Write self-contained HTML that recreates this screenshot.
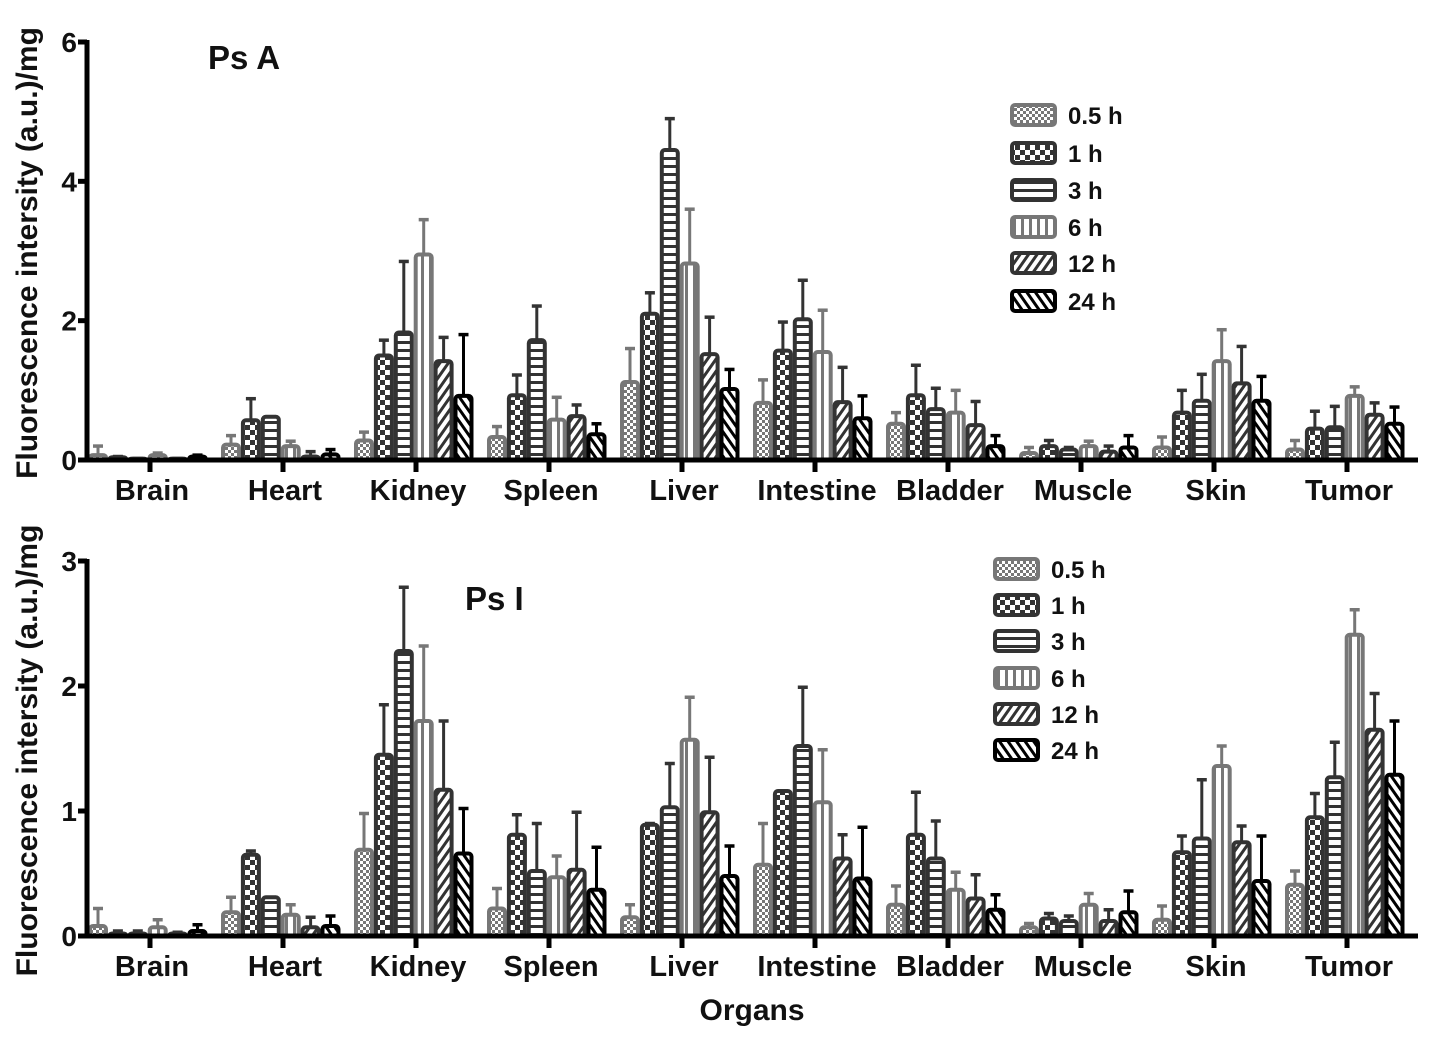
<!DOCTYPE html>
<html><head><meta charset="utf-8">
<style>
html,body{margin:0;padding:0;background:#fff;}
svg text{font-family:"Liberation Sans",Arial,sans-serif;font-weight:bold;fill:#111;}
</style></head>
<body>
<svg id="chart" width="1441" height="1039" viewBox="0 0 1441 1039" xmlns="http://www.w3.org/2000/svg">
<defs>
<pattern id="p0" width="6" height="6" patternUnits="userSpaceOnUse"><rect width="6" height="6" fill="#fff"/><rect width="3" height="3" fill="#777"/><rect x="3" y="3" width="3" height="3" fill="#777"/></pattern>
<pattern id="p1" width="10" height="10" patternUnits="userSpaceOnUse"><rect width="10" height="10" fill="#fff"/><rect width="5" height="5" fill="#333"/><rect x="5" y="5" width="5" height="5" fill="#333"/></pattern>
<pattern id="p2" width="8" height="8" patternUnits="userSpaceOnUse"><rect width="8" height="8" fill="#fff"/><rect y="5" width="8" height="3" fill="#333"/></pattern>
<pattern id="p3" width="8" height="8" patternUnits="userSpaceOnUse"><rect width="8" height="8" fill="#fff"/><rect x="5" width="3" height="8" fill="#777"/></pattern>
<pattern id="p4" width="7" height="7" patternUnits="userSpaceOnUse" patternTransform="rotate(35)"><rect width="7" height="7" fill="#fff"/><rect width="3" height="7" fill="#333"/></pattern>
<pattern id="p5" width="7" height="7" patternUnits="userSpaceOnUse" patternTransform="rotate(-35)"><rect width="7" height="7" fill="#fff"/><rect width="3" height="7" fill="#000"/></pattern>
</defs>
<g id="plots"></g>
</svg>
<script>
const organs = ["Brain","Heart","Kidney","Spleen","Liver","Intestine","Bladder","Muscle","Skin","Tumor"];
const seriesNames = ["0.5 h","1 h","3 h","6 h","12 h","24 h"];
const legendLabels = ["0.5 h"," 1 h","3 h"," 6 h","12 h","24 h"];
const seriesColors = ["#777","#333","#333","#777","#333","#000"];
const ticksA = [0,2,4,6];
const ticksI = [0,1,2,3];
// Ps A means and mean+SD
const psA_mean = [
 [0.07,0.22,0.28,0.33,1.12,0.82,0.52,0.10,0.18,0.15],
 [0.04,0.57,1.50,0.93,2.10,1.57,0.93,0.20,0.68,0.45],
 [0.02,0.62,1.83,1.72,4.45,2.02,0.73,0.15,0.85,0.47],
 [0.07,0.20,2.95,0.58,2.82,1.55,0.68,0.20,1.42,0.92],
 [0.02,0.05,1.42,0.63,1.52,0.83,0.50,0.12,1.10,0.65],
 [0.05,0.08,0.92,0.37,1.02,0.60,0.20,0.18,0.85,0.52]];
const psA_top = [
 [0.20,0.35,0.40,0.48,1.60,1.15,0.68,0.18,0.33,0.28],
 [0.05,0.88,1.72,1.22,2.40,1.98,1.36,0.28,1.00,0.70],
 [0.02,0.62,2.85,2.21,4.90,2.58,1.03,0.18,1.23,0.77],
 [0.10,0.27,3.45,0.90,3.60,2.15,1.00,0.27,1.87,1.05],
 [0.02,0.12,1.76,0.79,2.05,1.33,0.84,0.20,1.63,0.82],
 [0.07,0.15,1.80,0.52,1.30,0.92,0.35,0.35,1.20,0.76]];
const psI_mean = [
 [0.08,0.19,0.69,0.22,0.15,0.57,0.25,0.07,0.13,0.41],
 [0.02,0.65,1.45,0.81,0.89,1.16,0.81,0.14,0.67,0.95],
 [0.02,0.31,2.28,0.52,1.03,1.52,0.62,0.12,0.78,1.27],
 [0.07,0.17,1.72,0.47,1.57,1.07,0.37,0.25,1.36,2.41],
 [0.02,0.07,1.17,0.53,0.99,0.62,0.30,0.12,0.75,1.65],
 [0.04,0.08,0.66,0.37,0.48,0.46,0.21,0.19,0.44,1.29]];
const psI_top = [
 [0.22,0.31,0.98,0.38,0.25,0.90,0.40,0.10,0.24,0.52],
 [0.04,0.68,1.85,0.97,0.90,1.16,1.15,0.18,0.80,1.14],
 [0.04,0.31,2.79,0.90,1.38,1.99,0.92,0.16,1.25,1.55],
 [0.13,0.25,2.32,0.64,1.91,1.49,0.51,0.34,1.52,2.61],
 [0.03,0.15,1.72,0.99,1.43,0.81,0.49,0.21,0.88,1.94],
 [0.09,0.16,1.02,0.71,0.72,0.87,0.33,0.36,0.80,1.72]];

const NS="http://www.w3.org/2000/svg";
const root=document.getElementById('plots');
function mk(tag,attrs,parent){const e=document.createElementNS(NS,tag);for(const k in attrs)e.setAttribute(k,attrs[k]);(parent||root).appendChild(e);return e;}

function panel(cfg){
  const g=mk('g',{});
  
  
  const x0=87,x1=1418,step=133;
  const y=v=>cfg.y0-(v/cfg.max)*(cfg.y0-cfg.yTop);
  const cx=i=>150+step*i;
  for(let s=0;s<6;s++){
    for(let i=0;i<organs.length;i++){
      const bx=cx(i)-60+s*19.9, w=16;
      const yt=y(cfg.mean[s][i]), ye=y(cfg.top[s][i]);
      const ln=mk('line',{x1:bx+w/2,x2:bx+w/2,y1:ye,y2:yt,stroke:seriesColors[s],'stroke-width':3},g);
      
      
      const cap=mk('line',{x1:bx+w/2-5,x2:bx+w/2+5,y1:ye,y2:ye,stroke:seriesColors[s],'stroke-width':3.5},g);
      
      
      const r=mk('rect',{x:bx,y:yt,width:w,height:Math.max(cfg.y0-yt,1),rx:3,fill:'url(#p'+s+')',stroke:seriesColors[s],'stroke-width':4},g);
      
      
    }
  }
  const ya=mk('line',{x1:x0,x2:x0,y1:cfg.yTop-2,y2:cfg.y0+2,stroke:'#000','stroke-width':5},g);
  
  
  const xa=mk('line',{x1:x0-2,x2:x1,y1:cfg.y0,y2:cfg.y0,stroke:'#000','stroke-width':5},g);
  
  
  cfg.ticks.forEach(t=>{
    mk('line',{x1:x0-9,x2:x0,y1:y(t),y2:y(t),stroke:'#000','stroke-width':5},g);
    const tx=mk('text',{x:x0-10,y:y(t)+10,'text-anchor':'end','font-size':28},g);
    tx.textContent=t;
    
    
  });
  organs.forEach((o,i)=>{
    mk('line',{x1:cx(i),x2:cx(i),y1:cfg.y0,y2:cfg.y0+12,stroke:'#000','stroke-width':5},g);
    const t=mk('text',{x:cx(i)+2,y:cfg.y0+40,'text-anchor':'middle','font-size':29},g);
    t.textContent=o;
    
    
  });
  const yt=mk('text',{x:0,y:0,'text-anchor':'middle','font-size':30,transform:'translate(37,'+((cfg.y0+cfg.yTop)/2+2)+') rotate(-90)'},g);
  yt.textContent='Fluorescence intersity (a.u.)/mg';
  
  
  const ti=mk('text',{x:cfg.titleX,y:cfg.titleY,'font-size':33},g);
  ti.textContent=cfg.title;
  
  
  seriesNames.forEach((n,s)=>{
    const ly=cfg.legY[s];
    const lr=mk('rect',{x:cfg.legX,y:ly-10,width:43,height:20,rx:3,fill:'url(#p'+s+')',stroke:seriesColors[s],'stroke-width':4},g);
    
    
    const lt=mk('text',{x:cfg.legX+56,y:ly+9,'font-size':24},g);
    lt.textContent=legendLabels[s];
    
    
  });
}
panel({name:'panel-ps-a',mean:psA_mean,top:psA_top,max:6,y0:460,yTop:42,ticks:ticksA,title:'Ps A',titleX:208,titleY:69,legX:1012,legY:[115,153,190,227,263,301]});
panel({name:'panel-ps-i',mean:psI_mean,top:psI_top,max:3,y0:936,yTop:561,ticks:ticksI,title:'Ps I',titleX:465,titleY:610,legX:995,legY:[569,605,641,678,714,750]});
const xt=mk('text',{x:752,y:1020,'text-anchor':'middle','font-size':30});
xt.textContent='Organs';


</script>
</body></html>
